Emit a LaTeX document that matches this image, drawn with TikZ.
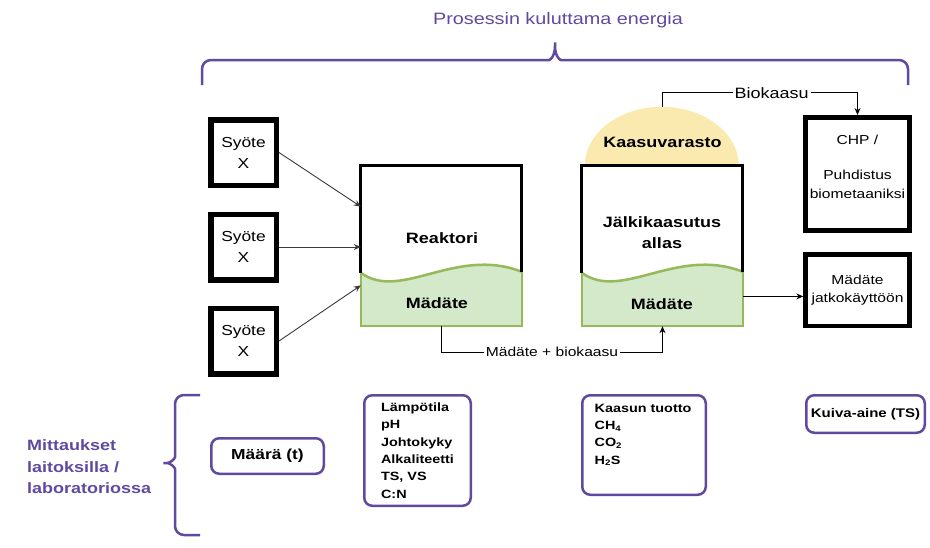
\documentclass[tikz,border=0pt]{standalone}
\usepackage{fontspec}
\setmainfont[FakeStretch=1.2]{Liberation Sans}
\usetikzlibrary{arrows.meta}
\definecolor{violetti}{RGB}{96,74,160}
\definecolor{nuolenvari}{RGB}{64,56,56}
\definecolor{nesteenvari}{RGB}{212,232,202}
\definecolor{nestereuna}{RGB}{150,185,90}
\definecolor{kaasunvari}{RGB}{250,234,176}
\tikzstyle{every node}=[inner sep=0pt]
\tikzstyle{syote}=[draw=black, line width=5.5pt, minimum width=65.5pt, minimum height=65.5pt, align=center, font=\fontsize{14.5}{21}\selectfont]
\tikzstyle{allas}=[minimum width=161pt, minimum height=160pt]
\tikzstyle{nimi}=[align=center, font=\fontsize{15}{21}\selectfont\bfseries]
\tikzstyle{laite}=[draw=black, line width=5pt, minimum width=104pt]
\tikzstyle{laiteteksti}=[align=center, font=\fontsize{13}{19}\selectfont]
\tikzstyle{mittaus}=[draw=violetti, line width=2.5pt, rounded corners=8pt]
\tikzstyle{mittausteksti}=[align=left, font=\fontsize{12}{17.3}\selectfont\bfseries]
\tikzstyle{nuoli}=[draw=nuolenvari, line width=0.9pt, -{Stealth[length=7pt, width=6pt]}]
\tikzstyle{virta}=[draw=black, line width=0.9pt, -{Stealth[length=7pt, width=6pt]}]
\tikzstyle{selite}=[fill=white, inner sep=2pt]
\tikzstyle{sulje}=[draw=violetti, line width=2.5pt, rounded corners=9pt]
\tikzstyle{otsikko}=[text=violetti]

\begin{document}
\begin{tikzpicture}[x=1pt, y=-1pt]
\path[use as bounding box, fill=white] (0,0) rectangle (930,547);

% energia
\node[otsikko, font=\fontsize{16.5}{20}\selectfont] (energia) at (558,20) {Prosessin kuluttama energia};
\draw[sulje] (202,85) -- (202,60) -- (540,60) .. controls (551,60) and (555,55) .. (555,37)
  .. controls (555,55) and (559,60) .. (570,60) -- (908,60) -- (908,85);

% syotteet
\node[syote] (syote1) at (243.5,152.5) {Syöte\\X};
\node[syote] (syote2) at (243.5,247) {Syöte\\X};
\node[syote] (syote3) at (243.5,341) {Syöte\\X};

% altaat
\node[allas] (reaktori) at (441.5,246) {};
\node[allas] (jalki) at (662.5,246) {};
\fill[kaasunvari] (jalki.north west) ++(3,0) arc[start angle=180, end angle=360, x radius=77, y radius=59];
\path (jalki.north) ++(0,-59) coordinate (varasto);
\foreach \allas in {reaktori,jalki}{
  \begin{scope}[shift={(\allas.north west)}]
    \fill[nesteenvari] (0,107) .. controls (40,136) and (95,80) .. (161,106) -- (161,160) -- (0,160) -- cycle;
    \draw[nestereuna, line width=1.5pt] (0,107) -- (0,160) -- (161,160) -- (161,106);
    \draw[nestereuna, line width=2.5pt] (0,107) .. controls (40,136) and (95,80) .. (161,106);
    \draw[line width=3pt] (0,107) -- (0,0) -- (161,0) -- (161,106);
  \end{scope}
}
\node[nimi] (reaktoriteksti) at (442,238) {Reaktori};
\node[nimi] (madate1) at (437,303) {Mädäte};
\node[nimi] (jalkiteksti) at (662,232.5) {Jälkikaasutus\\allas};
\node[nimi] (madate2) at (662,304) {Mädäte};
\node[nimi] (varastoteksti) at (662.5,142) {Kaasuvarasto};

% laitteet
\node[laite, minimum height=113pt] (chp) at (857.5,174) {};
\node[laiteteksti] (chpteksti) at (857.5,167) {CHP /\\[16pt]Puhdistus\\biometaaniksi};
\node[laite, line width=4.5pt, minimum height=71.5pt, laiteteksti, font=\fontsize{13}{18}\selectfont] (jatko) at (857.5,290) {Mädäte\\jatkokäyttöön};

% virrat
\draw[nuoli] (syote1.east) -- (reaktori.154);
\draw[nuoli] (syote2.east) -- (syote2.east -| reaktori.west);
\draw[nuoli] (syote3.east) -- (reaktori.206);
\draw[virta] (reaktori.south) -- ++(0,26) -| (jalki.south)
  node[selite, pos=0.25, font=\fontsize{13}{16}\selectfont] {Mädäte + biokaasu};
\draw[virta] (varasto) -- ++(0,-14) -| (chp.north)
  node[selite, pos=0.28, font=\fontsize{15}{18}\selectfont] {Biokaasu};
\draw[virta] (jalki.-32) -- (jalki.-32 -| jatko.west);

% mittaukset
\draw[sulje] (200,395) -- (175,395) -- (175,448) .. controls (175,459) and (170,463) .. (158,463)
  .. controls (170,463) and (175,467) .. (175,478) -- (175,535) -- (200,535);
\node[otsikko, anchor=west, align=left, font=\fontsize{15}{21.5}\selectfont\bfseries] (mittaukset) at (27,467)
  {Mittaukset\\laitoksilla /\\laboratoriossa};
\node[mittaus, minimum width=112.5pt, minimum height=35.5pt, font=\fontsize{14.5}{17}\selectfont\bfseries] (maara) at (267.5,456) {Määrä (t)};
\node[mittaus, mittausteksti, minimum width=106.5pt, minimum height=110.5pt] (lampo) at (417.5,450.5)
  {Lämpötila\\pH\\Johtokyky\\Alkaliteetti\\TS, VS\\C:N};
\node[mittaus, minimum width=123.5pt, minimum height=99.5pt] (kaasu) at (644,445) {};
\node[mittausteksti] (kaasuteksti) at (643,435)
  {Kaasun tuotto\\CH\textsubscript{4}\\CO\textsubscript{2}\\H\textsubscript{2}S};
\node[mittaus, minimum width=118.5pt, minimum height=37.5pt, font=\fontsize{12.5}{15}\selectfont\bfseries] (kuiva) at (865.5,414) {Kuiva-aine (TS)};
\end{tikzpicture}
\end{document}
